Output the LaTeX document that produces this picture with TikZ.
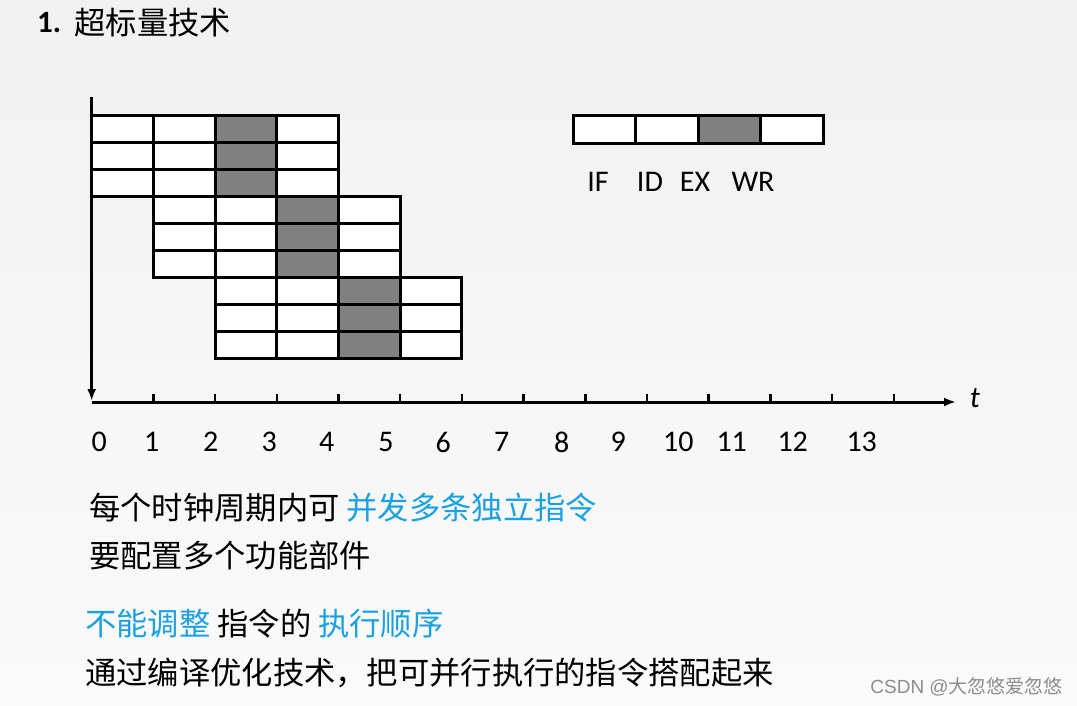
\documentclass[tikz,border=0pt]{standalone}
\usepackage{fontspec}
\setmainfont{Carlito}
\newfontfamily\cjk{Noto Sans CJK SC}
\newfontfamily\wmfont{Liberation Sans}
\usetikzlibrary{positioning,arrows.meta}

\definecolor{hlblue}{RGB}{27,161,226}
\definecolor{exgray}{RGB}{128,128,128}
\definecolor{wmgray}{RGB}{140,140,140}
\definecolor{bgtop}{RGB}{241,241,241}
\definecolor{bgbot}{RGB}{250,250,250}

\tikzset{
	cell/.style={draw, line width=3pt, fill=white, minimum width=61.7pt,
		minimum height=27pt, inner sep=0pt, outer sep=0pt, anchor=north west},
	num/.style={font=\fontsize{30}{36}\selectfont, inner sep=0pt},
	txt/.style={font=\fontsize{31.3}{37}\selectfont\cjk, inner sep=0pt, anchor=west},
	axis/.style={line width=3pt}
}

\begin{document}
\begin{tikzpicture}[x=1pt, y=-1pt, >={Latex[length=12pt,width=9pt]}]
	\shade[top color=bgtop, bottom color=bgbot] (0,0) rectangle (1077,705);
	\useasboundingbox (0,0) rectangle (1077,705);

	% title
	\node[inner sep=0pt, anchor=west,
		  font=\fontsize{31}{37}\selectfont\bfseries] 
		  (tnum) at (37,23) {1.};
	\node[txt, right=13pt of tnum] (ttitle) {超标量技术};

	% pipeline grid
	\foreach \r in {0,...,8}{
		\pgfmathtruncatemacro{\st}{\r/3}
		\foreach \s in {0,...,3}{
			\pgfmathtruncatemacro{\col}{\st+\s}
			\ifnum\s=2 \def\fc{exgray}\else\def\fc{white}\fi
			\node[cell, fill=\fc] (c\r\s) at ({91.7+61.7*\col},{115+27.05*\r}) {};
		}
	}

	% legend bar
	\foreach \s in {0,...,3}{
		\ifnum\s=2 \def\fc{exgray}\else\def\fc{white}\fi
		\node[cell, fill=\fc, minimum width=62.5pt, minimum height=28.3pt] 
			  (lg\s) at ({573.3+62.5*\s},115) {};
	}
	\foreach \x/\t in {598/IF, 650/ID, 695/EX, 753/WR}
		\node[num] (lb\t) at (\x,182) {\t};

	% axes
	\coordinate (ytop) at (91.7,97);
	\coordinate (O) at (91.7,401);
	\coordinate (tend) at (956,402);
	\draw[axis,->] (ytop) -- (O);
	\draw[axis,->] (91.7,402) -- (tend);
	\foreach \k in {1,...,13}
		\draw[line width=2.5pt] ({91.7+61.7*\k},402) -- ++(0,-8);
	\node[num, font=\fontsize{30}{36}\selectfont\itshape] (tlab) at (975,398) {t};

	\foreach \k/\x in {0/99.3, 1/151.7, 2/210.7, 3/269.3, 4/326.7, 5/386, 6/443.3,
		7/501.7, 8/561.7, 9/618.3, 10/678.3, 11/731.7, 12/792.7, 13/861.7}
		\node[num] (n\k) at (\x,442) {\k};

	% text lines
	\node[txt] (line1) at (89,508) {每个时钟周期内可 \textcolor{hlblue}{并发多条独立指令}};
	\node[txt] (line2) at (89,556) {要配置多个功能部件};
	\node[txt] (line3) at (85,624) {\textcolor{hlblue}{不能调整} 指令的 \textcolor{hlblue}{执行顺序}};
	\node[txt] (line4) at (85,673) {通过编译优化技术，把可并行执行的指令搭配起来};

	\node[inner sep=0pt, anchor=east, text=wmgray,
		  font=\fontsize{19}{23}\selectfont\wmfont] 
		  (wm) at (1063,687) {CSDN @{\cjk 大忽悠爱忽悠}};
\end{tikzpicture}
\end{document}
